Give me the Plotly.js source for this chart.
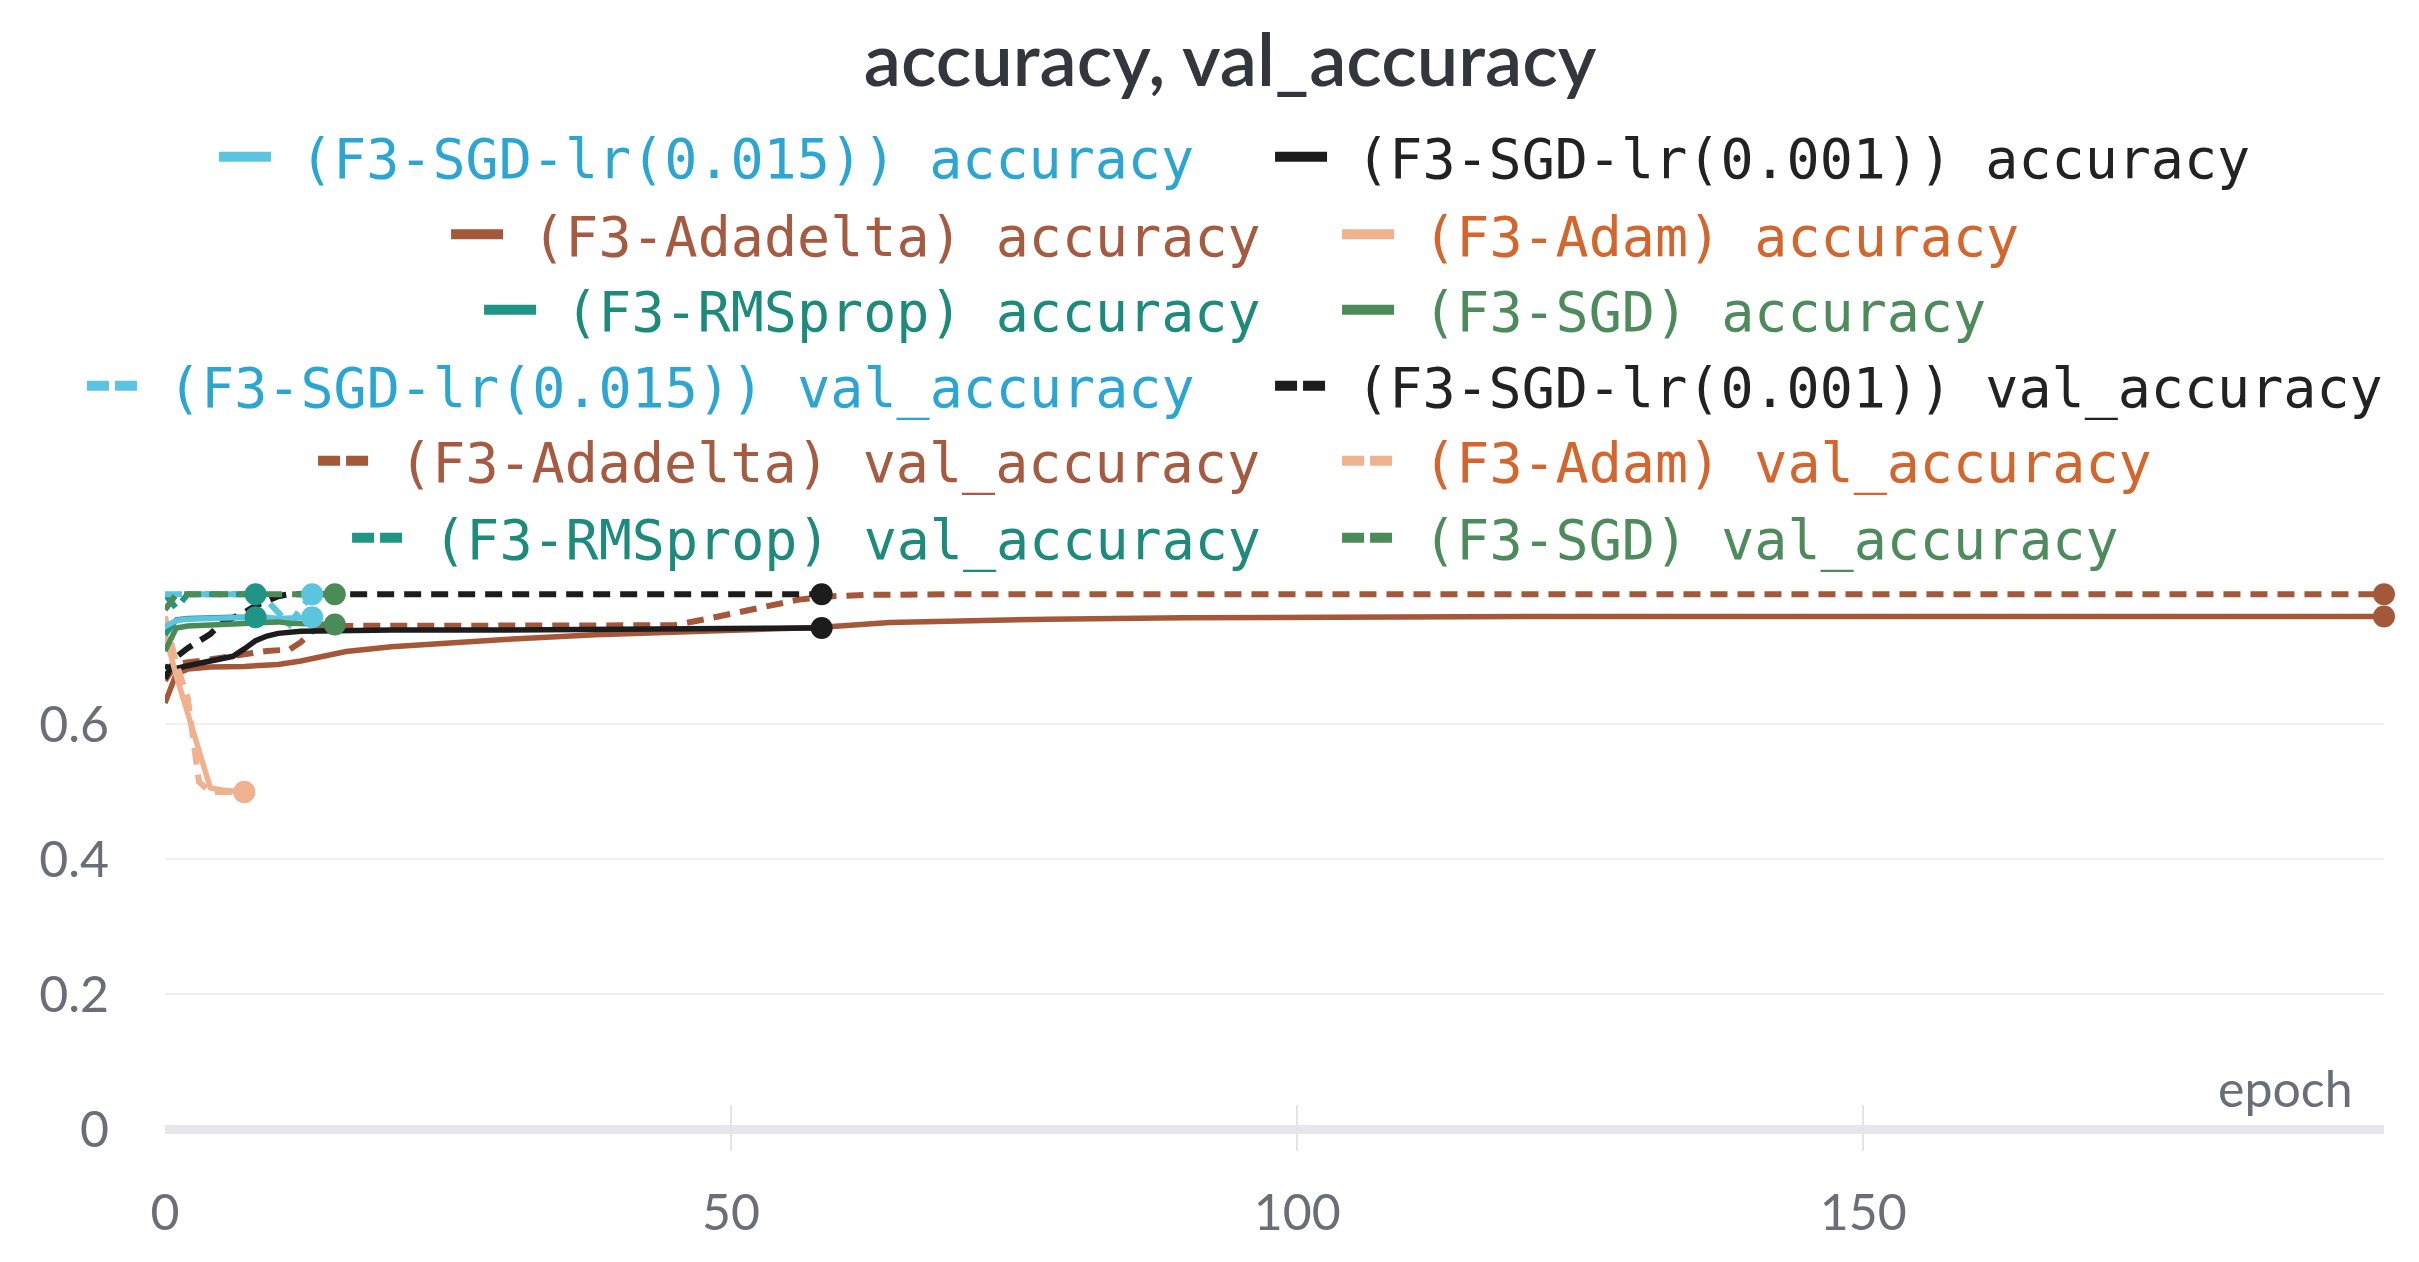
<!DOCTYPE html>
<html>
<head>
<meta charset="utf-8">
<script src="https://cdn.plot.ly/plotly-3.0.1.min.js"></script>
<style>
  html, body { margin: 0; padding: 0; background: #fff; }
  #chart { width: 2419px; height: 1262px; }
</style>
</head>
<body>
<div id="chart"></div>
<script>
// values (epoch, accuracy)
const sgd015Epochs = [0, 1, 2, 3, 4, 5, 6, 7, 8, 9, 10, 11, 12, 13];
const sgd015Acc = [0.745, 0.754, 0.756, 0.757, 0.757, 0.758, 0.758, 0.758, 0.759, 0.759, 0.757, 0.758, 0.758, 0.759];
const sgd015Val = [0.793, 0.793, 0.793, 0.793, 0.793, 0.793, 0.793, 0.793, 0.793, 0.784, 0.766, 0.748, 0.772, 0.793];

const sgd001AccEpochs = [0, 1, 2, 3, 4, 5, 6, 7, 8, 9, 10, 12, 15, 20, 30, 40, 50, 58];
const sgd001Acc = [0.686, 0.683, 0.687, 0.691, 0.694, 0.697, 0.701, 0.712, 0.724, 0.731, 0.735, 0.738, 0.739, 0.740, 0.740, 0.741, 0.742, 0.743];
const sgd001ValEpochs = [0, 1, 2, 3, 4, 5, 6, 7, 8, 9, 10, 11, 20, 30, 40, 50, 58];
const sgd001Val = [0.668, 0.700, 0.713, 0.724, 0.734, 0.750, 0.757, 0.766, 0.776, 0.784, 0.790, 0.793, 0.793, 0.793, 0.793, 0.793, 0.793];

const adadeltaAccEpochs = [0, 1, 2, 4, 7, 10, 12, 14, 16, 20, 25, 30, 38, 45, 52, 58, 64, 70, 78, 90, 100, 120, 150, 196];
const adadeltaAcc = [0.632, 0.675, 0.682, 0.685, 0.686, 0.689, 0.694, 0.702, 0.708, 0.715, 0.721, 0.726, 0.733, 0.737, 0.741, 0.744, 0.751, 0.754, 0.756, 0.758, 0.759, 0.760, 0.760, 0.760];
const adadeltaValEpochs = [0, 1, 3, 5, 7, 9, 11, 12, 13, 14, 16, 30, 45, 48, 52, 56, 59, 62, 70, 100, 150, 196];
const adadeltaVal = [0.665, 0.690, 0.694, 0.698, 0.704, 0.709, 0.711, 0.722, 0.738, 0.746, 0.746, 0.747, 0.747, 0.757, 0.772, 0.785, 0.790, 0.792, 0.793, 0.793, 0.793, 0.793];

const adamEpochs = [0, 1, 2, 3, 4, 5, 6, 7];
const adamAcc = [0.735, 0.672, 0.617, 0.561, 0.506, 0.503, 0.501, 0.500];
const adamVal = [0.760, 0.690, 0.640, 0.515, 0.500, 0.500, 0.500, 0.500];

const rmspropEpochs = [0, 1, 2, 3, 4, 5, 6, 7, 8];
const rmspropAcc = [0.733, 0.755, 0.757, 0.758, 0.758, 0.759, 0.759, 0.759, 0.759];
const rmspropVal = [0.793, 0.772, 0.793, 0.793, 0.793, 0.793, 0.793, 0.793, 0.793];

const sgdEpochs = [0, 1, 2, 3, 4, 5, 6, 7, 8, 9, 10, 11, 12, 13, 14, 15];
const sgdAcc = [0.709, 0.743, 0.746, 0.747, 0.748, 0.748, 0.749, 0.749, 0.750, 0.751, 0.752, 0.750, 0.749, 0.748, 0.748, 0.748];
const sgdVal = [0.770, 0.793, 0.793, 0.793, 0.793, 0.793, 0.793, 0.793, 0.793, 0.793, 0.793, 0.793, 0.793, 0.793, 0.793, 0.793];

const yTicks = [0, 0.2, 0.4, 0.6];
const yTickText = ['0', '0.2', '0.4', '0.6'];
const xTicks = [0, 50, 100, 150];

// runs, in legend order (left column, right column per row)
const runs = [
    { label: '(F3-SGD-lr(0.015))', color: '#5bc4de', text: '#2ba6d3', accX: sgd015Epochs, acc: sgd015Acc, valX: sgd015Epochs, val: sgd015Val },
    { label: '(F3-SGD-lr(0.001))', color: '#1c1c1c', text: '#222222', accX: sgd001AccEpochs, acc: sgd001Acc, valX: sgd001ValEpochs, val: sgd001Val },
    { label: '(F3-Adadelta)', color: '#a5573a', text: '#a65b40', accX: adadeltaAccEpochs, acc: adadeltaAcc, valX: adadeltaValEpochs, val: adadeltaVal },
    { label: '(F3-Adam)', color: '#f0b18f', text: '#d4652c', accX: adamEpochs, acc: adamAcc, valX: adamEpochs, val: adamVal },
    { label: '(F3-RMSprop)', color: '#219585', text: '#1d8b7c', accX: rmspropEpochs, acc: rmspropAcc, valX: rmspropEpochs, val: rmspropVal },
    { label: '(F3-SGD)', color: '#4a8b57', text: '#4e8b5c', accX: sgdEpochs, acc: sgdAcc, valX: sgdEpochs, val: sgdVal }
];

const data = [];
const drawOrder = [2, 1, 3, 4, 0, 5];

// lines
drawOrder.forEach(function (i) {
    const r = runs[i];
    data.push({ type: 'scatter', mode: 'lines', x: r.valX, y: r.val, showlegend: false, cliponaxis: false,
        line: { color: r.color, width: 6, dash: '17px,10px' }, hoverinfo: 'skip' });
    data.push({ type: 'scatter', mode: 'lines', x: r.accX, y: r.acc, showlegend: false, cliponaxis: false,
        line: { color: r.color, width: 5.5 }, hoverinfo: 'skip' });
});

// dot at the last point of every line
drawOrder.forEach(function (i) {
    const r = runs[i];
    data.push({ type: 'scatter', mode: 'markers', showlegend: false, cliponaxis: false, hoverinfo: 'skip',
        x: [r.valX[r.valX.length - 1], r.accX[r.accX.length - 1]],
        y: [r.val[r.val.length - 1], r.acc[r.acc.length - 1]],
        marker: { color: r.color, size: 22 } });
});

// legend rows: each row is two one-item legends so every row is centred on its own
const rowY = [1.7287, 1.5939, 1.4626, 1.3304, 1.2, 1.0661];
const legends = {};
const gapSpan = '<span style="font-size:40px">\u00a0</span>';

for (let row = 0; row < 6; row++) {
    const isVal = row >= 3;
    const pair = [(row % 3) * 2, (row % 3) * 2 + 1];
    const wide = (row % 3) === 0;
    pair.forEach(function (ri, side) {
        const r = runs[ri];
        const n = row * 2 + side + 1;
        const id = n === 1 ? 'legend' : 'legend' + n;
        legends[id] = {
            orientation: 'h',
            x: side === 0 ? (wide ? 0.4664 : 0.4962) : (wide ? 0.498 : 0.5282),
            xanchor: side === 0 ? 'right' : 'left',
            y: rowY[row],
            yanchor: 'middle',
            bgcolor: 'rgba(0,0,0,0)',
            borderwidth: 0,
            itemwidth: 52,
            font: { family: 'DejaVu Sans Mono', size: 55, color: r.text }
        };
        data.push({
            type: 'scatter', mode: 'lines', x: [null], y: [null],
            name: gapSpan + '<span style="color:' + r.text + '">' + r.label + (isVal ? ' val_accuracy' : ' accuracy') + '</span>',
            legend: id,
            line: { color: r.color, width: 11, dash: isVal ? '22px,6px' : 'solid' }
        });
    });
}

const layout = Object.assign({
    width: 2419,
    height: 1262,
    margin: { l: 165, r: 35, t: 576, b: 111 },
    paper_bgcolor: '#ffffff',
    plot_bgcolor: '#ffffff',
    hovermode: false,
    title: {
        text: 'accuracy, val_accuracy',
        font: { family: 'Lato', size: 74, color: '#33363d', weight: 600 },
        xref: 'container', x: 0.5085, xanchor: 'center',
        yref: 'container', y: 0.952, yanchor: 'middle'
    },
    xaxis: {
        range: [0, 196],
        tickvals: xTicks,
        ticks: 'inside',
        ticklen: 46,
        tickwidth: 2,
        tickcolor: '#e4e4e8',
        showgrid: false,
        zeroline: false,
        showline: false,
        ticklabelstandoff: 28,
        tickfont: { family: 'Lato', size: 50, color: '#6b6d78' }
    },
    yaxis: {
        range: [-0.032, 0.82],
        tickvals: yTicks,
        ticktext: yTickText,
        ticks: '',
        showgrid: true,
        gridcolor: '#efeff2',
        gridwidth: 2,
        zeroline: true,
        zerolinecolor: '#e6e6eb',
        zerolinewidth: 9,
        showline: false,
        ticklabelstandoff: 55,
        tickfont: { family: 'Lato', size: 50, color: '#6b6d78' }
    },
    annotations: [{
        text: 'epoch', xref: 'paper', yref: 'paper', x: 0.987, y: 0.11,
        xanchor: 'right', yanchor: 'middle', showarrow: false,
        font: { family: 'Lato', size: 50, color: '#6b6d78' }
    }]
}, legends);

Plotly.newPlot('chart', data, layout, { displayModeBar: false, staticPlot: true });
</script>
</body>
</html>
